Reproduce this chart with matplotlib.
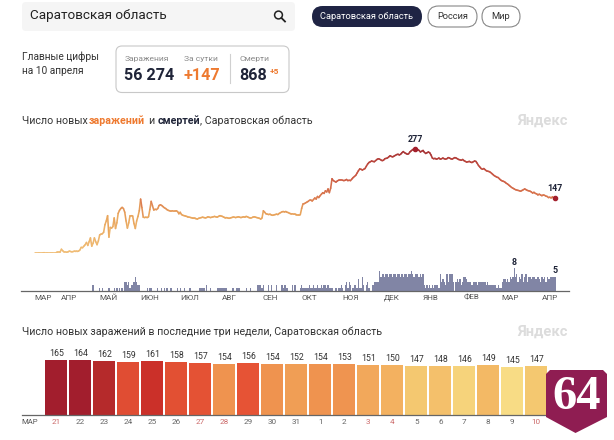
import matplotlib
matplotlib.use("Agg")
import matplotlib.pyplot as plt
import matplotlib.patches as mpatches
import numpy as np
from matplotlib.collections import LineCollection
from matplotlib.colors import LinearSegmentedColormap, Normalize

plt.rcParams["font.family"] = ["Roboto", "DejaVu Sans"]

W, H = 614, 440

MONTHS = ["МАР", "АПР", "МАЙ", "ИЮН", "ИЮЛ", "АВГ", "СЕН", "ОКТ", "НОЯ", "ДЕК", "ЯНВ", "ФЕВ", "МАР", "АПР"]
MONTH_DAYS = [6, 26, 56, 87, 117, 147, 178, 208, 239, 270, 300, 331, 360, 390]

# daily new cases, 10 values per row
CASES = [
    0, 0, 0, 0, 0, 0, 0, 1, 1, 1,
    1, 1, 1, 1, 1, 1, 1, 2, 2, 2,
    10, 6, 3, 3, 2, 3, 5, 4, 3, 4,
    5, 4, 4, 5, 8, 15, 14, 18, 22, 28,
    20, 30, 40, 18, 26, 40, 30, 22, 32, 48,
    50, 51, 55, 75, 85, 99, 42, 68, 66, 70,
    93, 65, 80, 105, 113, 118, 121, 118, 108, 85,
    66, 80, 99, 99, 98, 78, 65, 85, 97, 112,
    143, 120, 95, 94, 95, 94, 96, 115, 137, 125,
    114, 116, 115, 118, 126, 128, 126, 123, 120, 118,
    115, 113, 112, 111, 112, 111, 111, 112, 110, 104,
    108, 102, 100, 99, 98, 97, 95, 95, 94, 93,
    92, 92, 91, 90, 92, 93, 94, 95, 94, 93,
    94, 96, 95, 94, 95, 96, 97, 96, 95, 97,
    99, 98, 97, 95, 94, 94, 93, 92, 93, 94,
    95, 95, 94, 95, 96, 95, 94, 95, 96, 95,
    97, 96, 94, 93, 93, 95, 96, 95, 94, 93,
    92, 90, 93, 112, 108, 104, 103, 102, 103, 101,
    100, 101, 102, 103, 102, 105, 107, 109, 110, 109,
    110, 108, 107, 105, 104, 104, 103, 103, 102, 102,
    102, 102, 118, 130, 131, 133, 135, 137, 140, 140,
    138, 142, 146, 143, 150, 147, 152, 156, 160, 158,
    165, 162, 170, 160, 172, 197, 192, 190, 188, 191,
    193, 194, 194, 193, 192, 193, 195, 192, 193, 192,
    196, 200, 203, 206, 212, 218, 223, 222, 220, 222,
    224, 230, 236, 240, 242, 244, 243, 242, 245, 248,
    250, 249, 247, 245, 246, 250, 251, 252, 255, 258,
    256, 255, 257, 259, 261, 262, 260, 262, 266, 269,
    266, 264, 262, 263, 268, 271, 274, 276, 277, 276,
    274, 272, 268, 270, 272, 267, 264, 266, 268, 266,
    260, 252, 250, 251, 249, 250, 252, 249, 250, 252,
    250, 249, 250, 253, 252, 250, 249, 251, 253, 252,
    250, 248, 247, 246, 248, 245, 243, 241, 242, 243,
    241, 240, 242, 244, 243, 238, 232, 228, 224, 222,
    224, 221, 218, 217, 216, 214, 211, 208, 205, 203,
    201, 200, 196, 193, 191, 190, 188, 185, 183, 180,
    177, 174, 172, 170, 168, 167, 166, 165, 164, 166,
    168, 170, 168, 166, 165, 164, 162, 159, 161, 158,
    157, 154, 156, 154, 152, 154, 153, 151, 150, 147,
    148, 146, 149, 145, 147,
]

# daily deaths, same days as CASES
DEATHS = [
    0, 0, 0, 0, 0, 0, 0, 0, 0, 0,
    0, 0, 0, 0, 0, 0, 0, 0, 0, 0,
    0, 0, 0, 0, 0, 0, 0, 0, 0, 0,
    0, 0, 0, 0, 0, 0, 0, 0, 0, 0,
    0, 0, 0, 0, 2, 0, 0, 0, 0, 1,
    0, 1, 0, 0, 0, 0, 1, 0, 0, 0,
    1, 0, 1, 0, 1, 0, 1, 0, 3, 3,
    2, 3, 1, 2, 2, 3, 5, 3, 2, 2,
    0, 0, 0, 0, 0, 1, 0, 1, 1, 0,
    0, 0, 0, 1, 0, 0, 1, 0, 1, 0,
    1, 0, 0, 1, 0, 0, 0, 0, 1, 0,
    1, 0, 0, 1, 0, 0, 0, 1, 1, 0,
    0, 0, 0, 0, 0, 1, 1, 1, 1, 0,
    2, 0, 0, 1, 0, 0, 0, 0, 1, 1,
    1, 1, 1, 1, 1, 1, 0, 0, 0, 0,
    1, 0, 0, 1, 1, 1, 0, 0, 0, 0,
    1, 0, 0, 1, 0, 0, 0, 0, 0, 2,
    2, 2, 1, 2, 0, 0, 0, 2, 0, 2,
    0, 0, 0, 2, 0, 0, 0, 2, 1, 2,
    2, 1, 0, 0, 0, 2, 0, 2, 0, 0,
    0, 1, 2, 1, 1, 1, 1, 1, 2, 1,
    1, 2, 1, 1, 2, 1, 1, 2, 1, 2,
    2, 1, 2, 1, 1, 1, 0, 0, 1, 0,
    1, 1, 2, 1, 0, 2, 3, 1, 3, 2,
    0, 1, 2, 2, 1, 4, 1, 1, 5, 2,
    0, 2, 3, 1, 0, 0, 2, 3, 3, 3,
    3, 7, 5, 6, 6, 5, 6, 6, 5, 6,
    6, 5, 6, 6, 5, 6, 6, 5, 6, 5,
    6, 6, 5, 6, 6, 7, 6, 5, 6, 6,
    6, 5, 6, 5, 6, 2, 1, 2, 1, 2,
    1, 2, 1, 2, 2, 2, 1, 6, 3, 4,
    3, 2, 6, 3, 6, 6, 6, 3, 0, 3,
    4, 3, 4, 2, 3, 5, 5, 4, 3, 3,
    3, 2, 3, 3, 3, 2, 3, 3, 3, 3,
    3, 3, 2, 3, 2, 2, 2, 2, 2, 2,
    1, 2, 1, 1, 3, 4, 4, 3, 4, 3,
    5, 4, 5, 8, 5, 6, 3, 5, 4, 6,
    3, 5, 6, 3, 5, 5, 4, 5, 5, 4,
    4, 5, 4, 3, 5, 4, 5, 3, 5, 4,
    4, 5, 5, 5, 5,
]

WEEK_DAYS = ["21", "22", "23", "24", "25", "26", "27", "28", "29", "30", "31",
             "1", "2", "3", "4", "5", "6", "7", "8", "9", "10"]
WEEK_VALUES = [165, 164, 162, 159, 161, 158, 157, 154, 156, 154, 152,
               154, 153, 151, 150, 147, 148, 146, 149, 145, 147]
WEEKENDS = ["21", "27", "28", "3", "4", "10"]

line_cmap = LinearSegmentedColormap.from_list("cases", [
    (0.0, "#f0bd76"), (100 / 277, "#e9a55c"), (143 / 277, "#dc7d50"),
    (200 / 277, "#cc5a44"), (250 / 277, "#b5403a"), (1.0, "#a33035")])
bar_cmap = LinearSegmentedColormap.from_list("week", [
    (0.0, "#f8dc85"), (2 / 20, "#f4c870"), (5 / 20, "#f3b160"), (8 / 20, "#ef9450"),
    (9 / 20, "#ef9450"), (10 / 20, "#e85535"), (14 / 20, "#e04e33"), (16 / 20, "#cb3029"),
    (17 / 20, "#b52a2b"), (19 / 20, "#a21e2d"), (1.0, "#a21e2d")])

DARK = "#1f2438"
ORANGE = "#ee7a30"
GRAY = "#8a8a8a"


def px_axes(fig, left, top, right, bottom, **kw):
    return fig.add_axes([left / W, 1 - bottom / H, (right - left) / W, (bottom - top) / H], **kw)


def clean(ax):
    for s in ax.spines.values():
        s.set_visible(False)
    ax.patch.set_alpha(0)


fig = plt.figure(figsize=(W / 100, H / 100), dpi=100)

# page furniture, in pixel coordinates
ui = px_axes(fig, 0, 0, W, H)
ui.set_xlim(0, W)
ui.set_ylim(H, 0)
ui.axis("off")


def rbox(x0, y0, x1, y1, r, fc, ec="none", lw=0.8):
    ui.add_patch(mpatches.FancyBboxPatch((x0 + r, y0 + r), x1 - x0 - 2 * r, y1 - y0 - 2 * r,
                                         boxstyle=f"round,pad={r},rounding_size={r}",
                                         fc=fc, ec=ec, lw=lw))


def label(x, y, s, size, color=DARK, ha="left", weight="normal"):
    ui.text(x, y, s, fontsize=size, color=color, ha=ha, va="center", fontweight=weight)


rbox(22, 2, 295, 31, 4, "#f5f5f5")
label(29.5, 16, "Саратовская область", 9.7, "#222222")
ui.add_patch(mpatches.Circle((278.5, 15), 3.9, fc="none", ec="#222222", lw=1.1))
ui.plot([281.5, 285], [18, 21.5], color="#222222", lw=1.3)

rbox(312, 6, 422, 27, 10.5, "#1f2444")
label(367, 16.5, "Саратовская область", 6.7, "white", ha="center")
rbox(428, 6, 477, 27, 10.5, "white", "#888888")
label(452.5, 16.5, "Россия", 6.7, "#333333", ha="center")
rbox(482, 6, 520, 27, 10.5, "white", "#888888")
label(501, 16.5, "Мир", 6.7, "#333333", ha="center")

label(22, 57, "Главные цифры", 7.3, "#333333")
label(22, 71, "на 10 апреля", 7.3, "#333333")

rbox(116, 46, 289, 92.5, 6, "white", "#c8c8c8")
label(124.5, 58.5, "Заражения", 6.1, GRAY)
label(184.5, 58.5, "За сутки", 6.1, GRAY)
label(239, 58.5, "Смерти", 6.1, GRAY)
label(124.5, 75, "56 274", 11.6, DARK, weight="bold")
label(184, 75, "+147", 11.6, ORANGE, weight="bold")
label(239, 75, "868", 11.6, DARK, weight="bold")
label(270, 72, "+5", 6, ORANGE, weight="bold")
ui.plot([230, 230], [54, 83], color="#d0d0d0", lw=0.8)

title_y = 120.5
label(22, title_y, "Число новых", 7.65, "#333333")
label(89, title_y, "заражений", 7.65, ORANGE, weight="bold")
label(148, title_y, "и", 7.65, "#333333")
label(158, title_y, "смертей", 7.65, DARK, weight="bold")
label(199.5, title_y, ", Саратовская область", 7.65, "#333333")
label(22, 331.5, "Число новых заражений в последние три недели, Саратовская область", 7.65, "#333333")
for wy in (120.5, 332):
    label(517.5, wy, "Яндекс", 10.6, "#dcdcdc", weight="bold")

days = np.arange(len(CASES))
xlim = ((21 - 35) / 1.32, (569 - 35) / 1.32)

# cases line, coloured by value
ax = px_axes(fig, 21, 135, 569, 253)
ax.set_xlim(xlim)
ax.set_ylim(0, 118 / 0.377)
ax.axis("off")
pts = np.column_stack([days, CASES]).reshape(-1, 1, 2)
segs = np.concatenate([pts[:-1], pts[1:]], axis=1)
lc = LineCollection(segs, cmap=line_cmap, norm=Normalize(0, 277), linewidth=1.15, capstyle="round")
lc.set_array(np.array(CASES[:-1], dtype=float))
ax.add_collection(lc)
peak = int(np.argmax(CASES))
last = len(CASES) - 1
for i in (peak, last):
    ax.scatter(days[i], CASES[i], s=9, color="#a3202d", zorder=4, clip_on=False)
    ax.annotate(str(CASES[i]), (days[i], CASES[i]), xytext=(0, 3.5), textcoords="offset points",
                ha="center", va="bottom", fontsize=6.4, fontweight="bold", color=DARK)

# deaths bars and month axis
ax2 = px_axes(fig, 21, 258, 569, 290.5)
clean(ax2)
ax2.set_xlim(xlim)
ax2.set_ylim(0, 32.5 / 2.8)
ax2.bar(days, DEATHS, width=1.0, color="#555a86", alpha=0.74, linewidth=0)
ax2.spines["bottom"].set_visible(True)
ax2.spines["bottom"].set_color("#666666")
ax2.spines["bottom"].set_linewidth(0.9)
ax2.set_yticks([])
ax2.set_xticks(MONTH_DAYS)
ax2.set_xticklabels(MONTHS, fontsize=5.9, color="#555555")
ax2.tick_params(axis="x", length=0, pad=3)
for i in (363, last):
    ax2.annotate(str(DEATHS[i]), (days[i], DEATHS[i]), xytext=(0, 1), textcoords="offset points",
                 ha="center", va="bottom", fontsize=6.4, fontweight="bold", color=DARK)

# last three weeks
ax3 = px_axes(fig, 21.5, 345, 549.5, 415)
clean(ax3)
ax3.set_xlim((21.5 - 56.3) / 24, (549.5 - 56.3) / 24)
ax3.set_ylim(0, 70 / (1 / 3))
xs = np.arange(len(WEEK_VALUES))
week_norm = Normalize(145, 165)
ax3.bar(xs, WEEK_VALUES, width=22 / 24, color=bar_cmap(week_norm(np.array(WEEK_VALUES))), linewidth=0)
for x, v in zip(xs, WEEK_VALUES):
    ax3.annotate(str(v), (x, v), xytext=(0, 1.5), textcoords="offset points",
                 ha="center", va="bottom", fontsize=6.3, color="#333333")
ax3.spines["bottom"].set_visible(True)
ax3.spines["bottom"].set_color("#666666")
ax3.spines["bottom"].set_linewidth(0.9)
ax3.set_yticks([])
ax3.set_xticks(xs)
ax3.set_xticklabels(WEEK_DAYS, fontsize=5.9)
for t, d in zip(ax3.get_xticklabels(), WEEK_DAYS):
    t.set_color("#cc6b6b" if d in WEEKENDS else "#666666")
ax3.tick_params(axis="x", length=0, pad=3)
label(21.5, 422, "МАР", 5.6, "#555555")

# region badge
badge = [(550, 370), (603, 370), (607, 374), (607, 417), (575.5, 433), (546, 417), (546, 374)]
ui2 = px_axes(fig, 0, 0, W, H)
ui2.set_xlim(0, W)
ui2.set_ylim(H, 0)
ui2.axis("off")
ui2.add_patch(mpatches.Polygon(badge, closed=True, fc="#8f1d52", ec="none"))
ui2.text(576.5, 397, "64", fontsize=35, fontweight="bold", color="white", ha="center", va="center",
         family="Liberation Serif")

fig.savefig("out.png", dpi=100)
plt.close(fig)
